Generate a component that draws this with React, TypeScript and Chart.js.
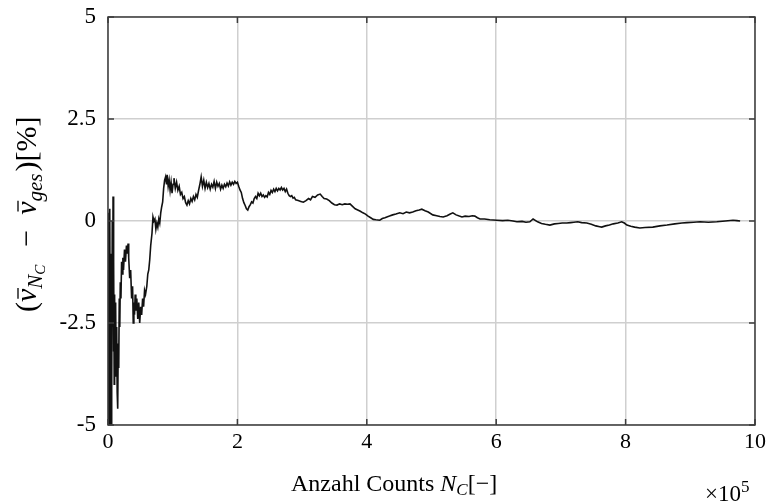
import React, { useEffect, useRef } from "react";
import { Chart, registerables } from "chart.js";
Chart.register(...registerables);

// x in units of 1e5 counts
const countsE5 = [
  0.000, 0.006, 0.012, 0.018, 0.024, 0.030, 0.036, 0.042, 0.048, 0.054, 0.060, 0.066, 0.072, 0.078, 0.084, 0.090,
  0.096, 0.102, 0.110, 0.118, 0.126, 0.134, 0.142, 0.150, 0.158, 0.166, 0.174, 0.182, 0.190, 0.200, 0.210, 0.220,
  0.230, 0.240, 0.255, 0.270, 0.285, 0.300, 0.310, 0.320, 0.335, 0.350, 0.365, 0.380, 0.390, 0.400, 0.410, 0.420,
  0.430, 0.445, 0.460, 0.475, 0.490, 0.505, 0.520, 0.535, 0.550, 0.565, 0.580, 0.600, 0.615, 0.630, 0.645, 0.660,
  0.680, 0.695, 0.710, 0.725, 0.740, 0.755, 0.770, 0.785, 0.800, 0.815, 0.830, 0.845, 0.860, 0.875, 0.890, 0.905,
  0.915, 0.930, 0.945, 0.960, 0.975, 0.990, 1.005, 1.020, 1.040, 1.060, 1.080, 1.100, 1.120, 1.140, 1.160, 1.180,
  1.200, 1.220, 1.240, 1.260, 1.280, 1.300, 1.320, 1.340, 1.360, 1.380, 1.400, 1.420, 1.440, 1.460, 1.480, 1.500,
  1.520, 1.540, 1.560, 1.580, 1.600, 1.620, 1.640, 1.660, 1.680, 1.700, 1.720, 1.740, 1.760, 1.780, 1.800, 1.820,
  1.840, 1.860, 1.880, 1.900, 1.920, 1.940, 1.960, 1.980, 2.000, 2.020, 2.040, 2.060, 2.080, 2.100, 2.120, 2.140,
  2.160, 2.180, 2.200, 2.220, 2.240, 2.260, 2.280, 2.300, 2.320, 2.340, 2.360, 2.380, 2.400, 2.420, 2.440, 2.460,
  2.480, 2.500, 2.520, 2.540, 2.560, 2.580, 2.600, 2.620, 2.640, 2.660, 2.680, 2.700, 2.720, 2.740, 2.760, 2.780,
  2.800, 2.820, 2.840, 2.860, 2.880, 2.900, 2.940, 2.980, 3.020, 3.060, 3.100, 3.130, 3.160, 3.200, 3.240, 3.280,
  3.310, 3.340, 3.380, 3.420, 3.460, 3.500, 3.540, 3.580, 3.620, 3.660, 3.700, 3.740, 3.780, 3.820, 3.860, 3.900,
  3.940, 3.980, 4.020, 4.060, 4.100, 4.140, 4.200, 4.240, 4.280, 4.310, 4.350, 4.400, 4.450, 4.510, 4.560, 4.610,
  4.660, 4.710, 4.760, 4.810, 4.850, 4.900, 4.950, 5.020, 5.080, 5.130, 5.180, 5.240, 5.290, 5.330, 5.380, 5.430,
  5.470, 5.520, 5.580, 5.630, 5.670, 5.710, 5.750, 5.820, 5.900, 6.010, 6.100, 6.180, 6.260, 6.320, 6.400, 6.460,
  6.520, 6.570, 6.640, 6.700, 6.760, 6.830, 6.900, 6.960, 7.020, 7.090, 7.150, 7.200, 7.260, 7.320, 7.400, 7.470,
  7.540, 7.600, 7.630, 7.690, 7.750, 7.810, 7.880, 7.940, 7.980, 8.020, 8.080, 8.140, 8.220, 8.300, 8.420, 8.530,
  8.640, 8.760, 8.870, 8.950, 9.050, 9.150, 9.280, 9.410, 9.540, 9.660, 9.720, 9.770,
];

// deviation in %
const deviation = [
  -5.0, 0.2, -4.8, -0.3, -5.0, 0.3, -3.9, -0.8, -5.0, -1.5, -4.2, 0.0, -2.6, 0.6, -3.2, -1.0,
  -4.0, -1.8, -3.4, -2.0, -3.8, -2.6, -4.2, -4.6, -3.0, -3.6, -1.9, -2.6, -1.5, -1.9, -1.0, -1.3,
  -0.9, -1.2, -0.7, -1.0, -0.6, -0.8, -0.55, -0.9, -1.4, -1.2, -1.9, -1.6, -2.5, -2.0, -2.3, -1.8,
  -2.2, -1.9, -2.4, -2.0, -2.5, -2.1, -2.3, -1.9, -2.1, -1.7, -1.8, -1.6, -1.3, -1.2, -0.95, -0.6,
  -0.3, 0.1, 0.0, 0.05, -0.2, -0.05, -0.15, 0.05, -0.05, 0.2, 0.35, 0.47, 0.8, 1.0, 1.08, 0.9,
  1.13, 0.85, 1.0, 0.75, 0.95, 0.68, 0.9, 1.05, 0.8, 0.95, 0.75, 0.85, 0.65, 0.7, 0.55, 0.6,
  0.45, 0.39, 0.5, 0.42, 0.55, 0.48, 0.6, 0.52, 0.65, 0.58, 0.75, 0.9, 1.08, 0.85, 1.0, 0.8,
  0.95, 0.82, 0.92, 0.78, 0.9, 0.83, 0.97, 0.8, 0.95, 0.85, 0.92, 0.78, 0.88, 0.8, 0.9, 0.84,
  0.93, 0.86, 0.96, 0.88, 0.95, 0.9, 0.97, 0.92, 0.95, 0.85, 0.76, 0.7, 0.55, 0.45, 0.38, 0.3,
  0.27, 0.35, 0.4, 0.47, 0.44, 0.55, 0.6, 0.55, 0.68, 0.62, 0.68, 0.6, 0.64, 0.58, 0.62, 0.59,
  0.7, 0.65, 0.75, 0.7, 0.78, 0.72, 0.8, 0.74, 0.8, 0.76, 0.82, 0.76, 0.8, 0.72, 0.78, 0.68,
  0.62, 0.6, 0.62, 0.56, 0.58, 0.52, 0.5, 0.48, 0.46, 0.5, 0.55, 0.52, 0.6, 0.58, 0.64, 0.66,
  0.6, 0.55, 0.54, 0.5, 0.44, 0.4, 0.39, 0.42, 0.4, 0.42, 0.41, 0.42, 0.36, 0.3, 0.27, 0.24,
  0.2, 0.17, 0.12, 0.08, 0.04, 0.03, 0.02, 0.06, 0.08, 0.1, 0.12, 0.15, 0.17, 0.2, 0.18, 0.22,
  0.2, 0.22, 0.25, 0.27, 0.29, 0.25, 0.22, 0.15, 0.13, 0.11, 0.1, 0.13, 0.17, 0.2, 0.15, 0.12,
  0.1, 0.12, 0.11, 0.13, 0.12, 0.08, 0.05, 0.05, 0.03, 0.02, 0.01, 0.02, 0.0, -0.02, -0.01, -0.03,
  -0.02, 0.05, -0.02, -0.06, -0.08, -0.1, -0.07, -0.06, -0.05, -0.05, -0.04, -0.03, -0.02, -0.04, -0.05, -0.08,
  -0.12, -0.14, -0.15, -0.12, -0.1, -0.07, -0.05, -0.02, -0.05, -0.1, -0.13, -0.15, -0.17, -0.16, -0.15, -0.12,
  -0.1, -0.07, -0.05, -0.04, -0.03, -0.02, -0.03, -0.02, 0.0, 0.02, 0.01, 0.0,
];

const xTickValues = [0, 2, 4, 6, 8, 10];
const yTickValues = [-5, -2.5, 0, 2.5, 5];
const yTickLabels = ["-5", "-2.5", "0", "2.5", "5"];

const FONT = '"Liberation Serif", "DejaVu Serif", serif';

type Seg = { t: string; it?: boolean; s: number; dy?: number; bar?: boolean; gap?: number };

function drawRich(ctx: CanvasRenderingContext2D, segs: Seg[], x: number, y: number) {
  let cx = x;
  for (const sg of segs) {
    ctx.font = `${sg.it ? "italic " : ""}${sg.s}px ${FONT}`;
    const yy = y + (sg.dy || 0);
    ctx.fillText(sg.t, cx, yy);
    const w = ctx.measureText(sg.t).width;
    if (sg.bar) {
      ctx.save();
      ctx.lineWidth = 1.3;
      ctx.strokeStyle = "#000";
      ctx.beginPath();
      ctx.moveTo(cx + w * 0.25, yy - sg.s * 0.6);
      ctx.lineTo(cx + w * 1.05, yy - sg.s * 0.6);
      ctx.stroke();
      ctx.restore();
    }
    cx += w + (sg.gap || 0);
  }
  return cx - x;
}

const framePlugin = {
  id: "framePlugin",
  afterDraw(chart: any) {
    const ctx: CanvasRenderingContext2D = chart.ctx;
    const { left, right, top, bottom } = chart.chartArea;
    const xs = chart.scales.x;
    const ys = chart.scales.y;
    ctx.save();
    ctx.strokeStyle = "#3c3c3c";
    ctx.lineWidth = 1.5;
    ctx.strokeRect(left, top, right - left, bottom - top);
    const tl = 6;
    ctx.beginPath();
    for (const v of xTickValues) {
      const px = xs.getPixelForValue(v);
      ctx.moveTo(px, bottom);
      ctx.lineTo(px, bottom - tl);
      ctx.moveTo(px, top);
      ctx.lineTo(px, top + tl);
    }
    for (const v of yTickValues) {
      const py = ys.getPixelForValue(v);
      ctx.moveTo(left, py);
      ctx.lineTo(left + tl, py);
      ctx.moveTo(right, py);
      ctx.lineTo(right - tl, py);
    }
    ctx.stroke();

    ctx.fillStyle = "#000";
    ctx.textBaseline = "alphabetic";
    ctx.textAlign = "left";
    // x axis title
    drawRich(
      ctx,
      [
        { t: "Anzahl Counts ", s: 24 },
        { t: "N", s: 24, it: true },
        { t: "C", s: 17, it: true, dy: 4 },
        { t: "[−]", s: 24 },
      ],
      291,
      491
    );
    // x10^5
    drawRich(
      ctx,
      [
        { t: "×10", s: 23 },
        { t: "5", s: 17, dy: -9 },
      ],
      705,
      501
    );
    // y axis title (rotated)
    ctx.save();
    ctx.translate(36, 312);
    ctx.rotate(-Math.PI / 2);
    drawRich(
      ctx,
      [
        { t: "(", s: 30 },
        { t: "v", s: 30, it: true, bar: true },
        { t: "N", s: 21, it: true, dy: 6 },
        { t: "C", s: 15, it: true, dy: 9, gap: 3 },
        { t: "  −  ", s: 30 },
        { t: "v", s: 30, it: true, bar: true },
        { t: "ges", s: 21, it: true, dy: 6, gap: 2 },
        { t: ")", s: 30 },
        { t: "[%]", s: 30 },
      ],
      0,
      0
    );
    ctx.restore();
    ctx.restore();
  },
};

export default function App() {
  const ref = useRef<HTMLCanvasElement | null>(null);
  useEffect(() => {
    document.body.style.margin = "0";
    if (!ref.current) return;
    const chart = new Chart(ref.current, {
      type: "line",
      data: {
        datasets: [
          {
            data: countsE5.map((x, i) => ({ x, y: deviation[i] })),
            borderColor: "#111111",
            borderWidth: 1.6,
            pointRadius: 0,
            tension: 0,
            fill: false,
          },
        ],
      },
      options: {
        animation: false,
        responsive: false,
        maintainAspectRatio: false,
        layout: { padding: { left: 0, top: 17, right: 15, bottom: 0 } },
        plugins: { legend: { display: false }, tooltip: { enabled: false } },
        scales: {
          x: {
            type: "linear",
            min: 0,
            max: 10,
            afterBuildTicks: (s: any) => {
              s.ticks = xTickValues.map((v) => ({ value: v }));
            },
            afterFit: (s: any) => {
              s.height = 78;
              s.paddingLeft = 0;
              s.paddingRight = 0;
              s.paddingTop = 0;
              s.paddingBottom = 0;
            },
            ticks: {
              font: { family: FONT, size: 22 },
              color: "#000",
              padding: 4,
              maxRotation: 0,
              callback: (v: any) => String(v),
            },
            grid: { color: "#cfcfcf", lineWidth: 1.5, drawTicks: false },
            border: { display: false },
          },
          y: {
            type: "linear",
            min: -5,
            max: 5,
            afterBuildTicks: (s: any) => {
              s.ticks = yTickValues.map((v) => ({ value: v }));
            },
            afterFit: (s: any) => {
              s.width = 108;
              s.paddingLeft = 0;
              s.paddingRight = 0;
              s.paddingTop = 0;
              s.paddingBottom = 0;
            },
            ticks: {
              font: { family: FONT, size: 23 },
              color: "#000",
              padding: 12,
              callback: (v: any) => {
                const i = yTickValues.indexOf(Number(v));
                return i >= 0 ? yTickLabels[i] : "";
              },
            },
            grid: { color: "#cfcfcf", lineWidth: 1.5, drawTicks: false },
            border: { display: false },
          },
        },
      },
      plugins: [framePlugin],
    } as any);
    return () => chart.destroy();
  }, []);
  return (
    <div style={{ position: "absolute", left: 0, top: 0, width: 770, height: 503 }}>
      <canvas ref={ref} width={770} height={503} style={{ width: 770, height: 503 }} />
    </div>
  );
}
